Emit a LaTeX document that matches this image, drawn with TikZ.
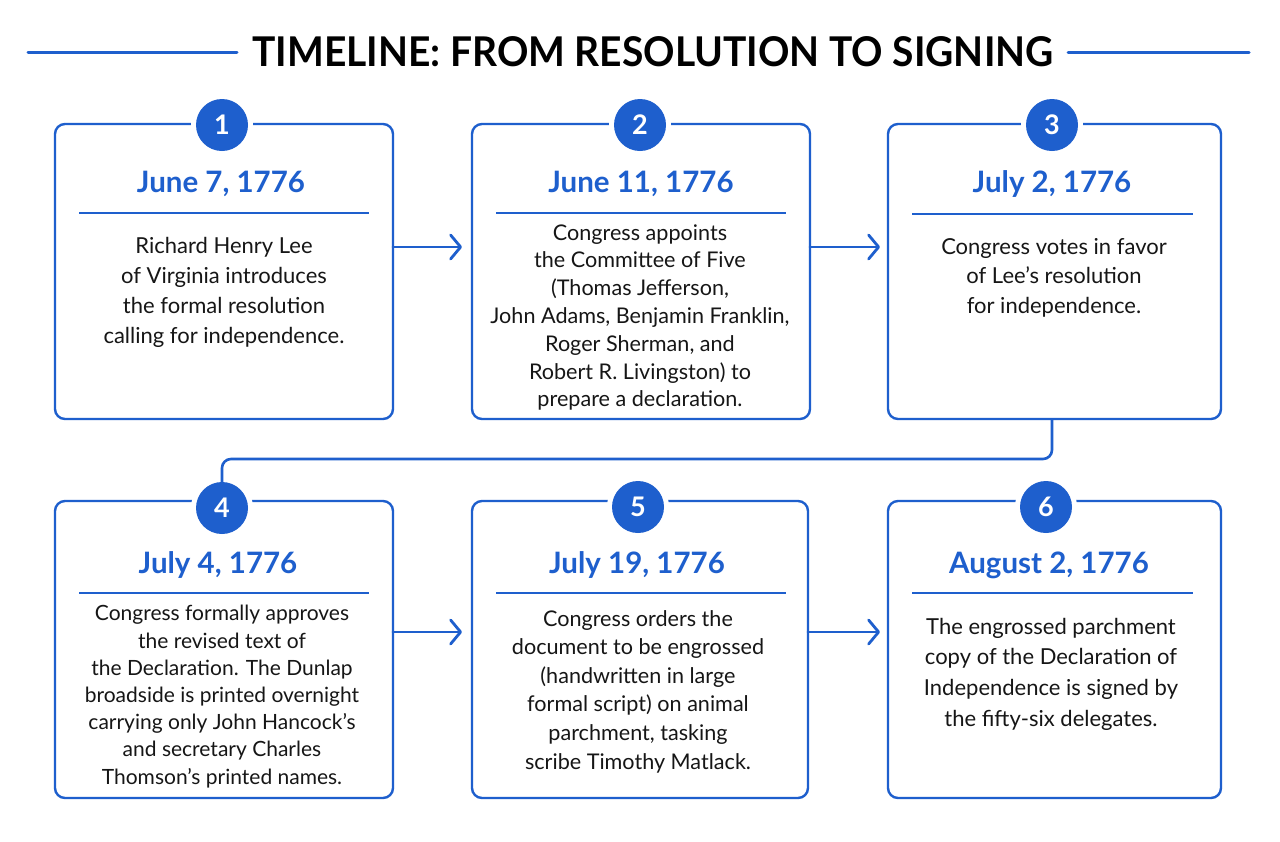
\documentclass[tikz,border=0pt]{standalone}
\usepackage{fontspec}
\usepackage{graphicx}
\setmainfont{Lato}
\usetikzlibrary{arrows.meta}
\definecolor{tblue}{RGB}{30,95,205}
\definecolor{ink}{RGB}{22,22,22}
\begin{document}
\begin{tikzpicture}[x=1pt,y=-1pt,
  card/.style={draw=tblue, line width=2.4pt, rounded corners=10pt, fill=white, inner sep=0pt, outer sep=0pt},
  gapdisc/.style={circle, fill=white, minimum size=62pt, inner sep=0pt},
  num/.style={circle, fill=tblue, minimum size=52pt, inner sep=0pt, text=white, font=\fontsize{27}{27}\selectfont\bfseries},
  datetext/.style={text=tblue, font=\fontsize{29.5}{29.5}\selectfont\bfseries},
  sepline/.style={draw=tblue, line width=1.8pt},
  body/.style={text=ink, align=center, inner sep=0pt},
  arr/.style={draw=tblue, line width=2.8pt, line cap=round, -{Straight Barb[length=10pt,width=24pt,line cap=round,line join=round]}},
  conn/.style={draw=tblue, line width=2.6pt, rounded corners=9pt},
  tline/.style={draw=tblue, line width=3pt, line cap=round},
  titletext/.style={text=black, font=\fontsize{41}{41}\selectfont\bfseries}
]
\useasboundingbox[fill=white] (0,0) rectangle (1280,841);

% title
\node[titletext] (t) at (653,52) {\scalebox{0.95}[1]{TIMELINE: FROM RESOLUTION TO SIGNING}};
\coordinate (tl1) at (28,52);
\coordinate (tl2) at (237,52);
\coordinate (tr1) at (1068,52);
\coordinate (tr2) at (1249,52);
\draw[tline] (tl1) -- (tl2);
\draw[tline] (tr1) -- (tr2);

% cards
\node[card, minimum width=338pt, minimum height=295pt] (b1) at (224,271.5) {};
\node[card, minimum width=338pt, minimum height=295pt] (b2) at (641,271.5) {};
\node[card, minimum width=333pt, minimum height=295pt] (b3) at (1054.5,271.5) {};
\node[card, minimum width=338pt, minimum height=297pt] (b4) at (224,649.5) {};
\node[card, minimum width=336pt, minimum height=297pt] (b5) at (640,649.5) {};
\node[card, minimum width=333pt, minimum height=297pt] (b6) at (1054.5,649.5) {};

% number badges
\node[gapdisc] (g1) at (222,125) {};
\node[gapdisc] (g2) at (640,125) {};
\node[gapdisc] (g3) at (1052,125) {};
\node[gapdisc] (g4) at (222,508) {};
\node[gapdisc] (g5) at (638,507) {};
\node[gapdisc] (g6) at (1046,507) {};
\node[num] (n1) at (g1) {1};
\node[num] (n2) at (g2) {2};
\node[num] (n3) at (g3) {3};
\node[num] (n4) at (g4) {4};
\node[num] (n5) at (g5) {5};
\node[num] (n6) at (g6) {6};

% dates
\node[datetext] (d1) at (221,184) {June 7, 1776};
\node[datetext] (d2) at (641,184) {June 11, 1776};
\node[datetext] (d3) at (1052,184) {July 2, 1776};
\node[datetext] (d4) at (218,565) {July 4, 1776};
\node[datetext] (d5) at (637,565) {July 19, 1776};
\node[datetext] (d6) at (1049,565) {August 2, 1776};

% separators
\draw[sepline] (79,213) -- (369,213);
\draw[sepline] (496,213) -- (786,213);
\draw[sepline] (912,214) -- (1193,214);
\draw[sepline] (79,593) -- (369,593);
\draw[sepline] (496,593) -- (786,593);
\draw[sepline] (912,593) -- (1193,593);

% body texts
\node[body, font=\fontsize{22}{30}\selectfont] (x1) at (224,292) {Richard Henry Lee\\of Virginia introduces\\the formal resolution\\calling for independence.};
\node[body, font=\fontsize{21.6}{27.8}\selectfont] (x2) at (640,317.5) {Congress appoints\\the Committee of Five\\(Thomas Jefferson,\\John Adams, Benjamin Franklin,\\Roger Sherman, and\\Robert R. Livingston) to\\prepare a declaration.};
\node[body, font=\fontsize{22}{29.5}\selectfont] (x3) at (1054,277.5) {Congress votes in favor\\of Lee's resolution\\for independence.};
\node[body, font=\fontsize{21}{27.2}\selectfont] (x4) at (222,696.5) {Congress formally approves\\the revised text of\\the Declaration. The Dunlap\\broadside is printed overnight\\carrying only John Hancock's\\and secretary Charles\\Thomson's printed names.};
\node[body, font=\fontsize{21.6}{28.6}\selectfont] (x5) at (638,691.5) {Congress orders the\\document to be engrossed\\(handwritten in large\\formal script) on animal\\parchment, tasking\\scribe Timothy Matlack.};
\node[body, font=\fontsize{22}{30.7}\selectfont] (x6) at (1051,674) {The engrossed parchment\\copy of the Declaration of\\Independence is signed by\\the fifty-six delegates.};

% arrows
\draw[arr, shorten >=10pt] ([yshift=24.5pt]b1.east) -- ([yshift=24.5pt]b2.west);
\draw[arr, shorten >=8pt] ([yshift=24.5pt]b2.east) -- ([yshift=24.5pt]b3.west);
\draw[arr, shorten >=10pt] ([yshift=17.5pt]b4.east) -- ([yshift=17.5pt]b5.west);
\draw[arr, shorten >=8pt] ([yshift=17.5pt]b5.east) -- ([yshift=17.5pt]b6.west);

% connector row 1 -> row 2
\coordinate (bend) at (1052,459);
\draw[conn] (n3 |- b3.south) -- (bend) -| (n4.north);
\end{tikzpicture}
\end{document}
